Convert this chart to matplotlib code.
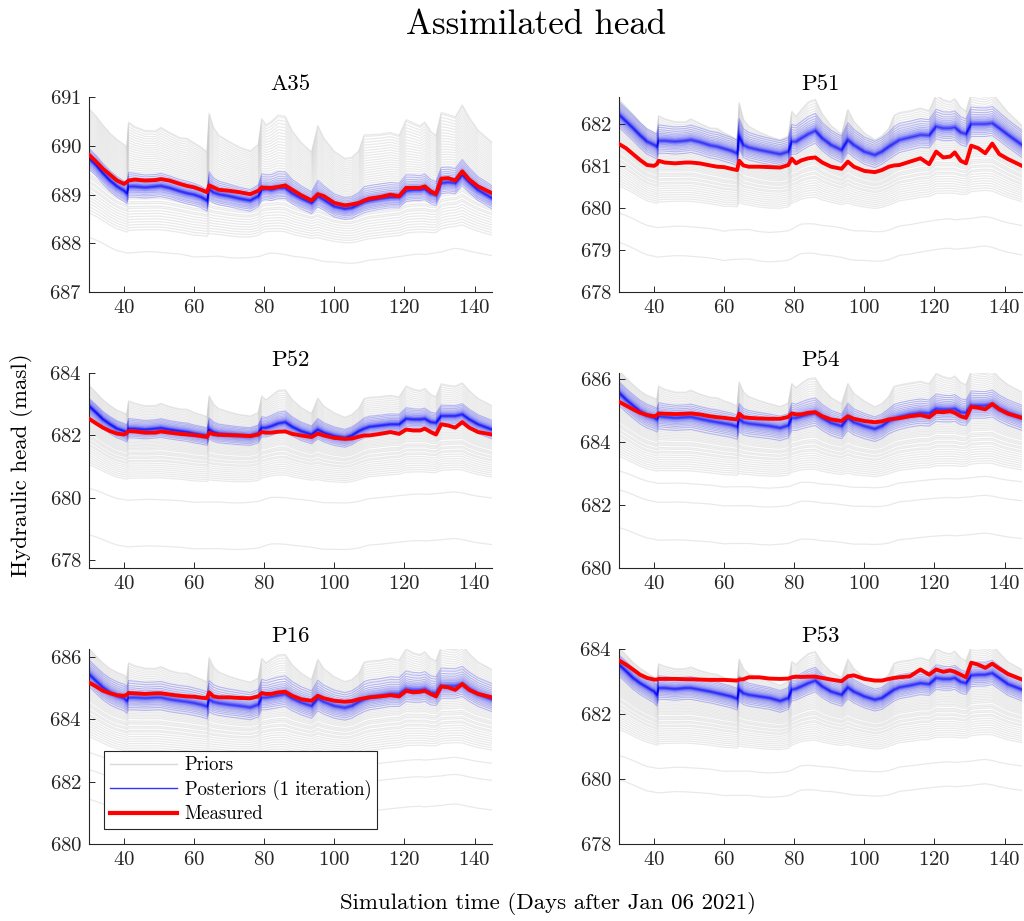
import numpy as np
import matplotlib
matplotlib.use("Agg")
import matplotlib.pyplot as plt
from matplotlib.lines import Line2D

plt.rcParams.update({
    "font.family": "serif",
    "font.serif": ["cmr10"],
    "mathtext.fontset": "cm",
    "axes.formatter.use_mathtext": True,
    "axes.unicode_minus": False,
})

# ---------------------------------------------------------------- data
days = [30, 32, 34, 36, 38, 40, 40.8, 41.3, 43, 46,
        49, 50.5, 53, 56, 58, 60, 62, 63.7, 64.3, 65.5,
        67, 70, 73, 76, 78.3, 79.3, 80.5, 82, 84, 86,
        88, 90.5, 93.5, 95.3, 97, 100, 103, 105, 107, 108.5,
        110, 113, 116, 118.5, 120.5, 122.5, 124.5, 125.8, 127.5, 129,
        130.5, 132.5, 134.5, 136.5, 138.5, 141, 145]

# recharge-event response of the wettest prior realisations (relative units)
pulse = [0, 0, 0, 0, 0, 0, 0, 0.6, 0.45, 0.35,
         0.3, 0.4, 0.3, 0.25, 0.3, 0.2, 0.15, 0.1, 1.0, 0.65,
         0.45, 0.3, 0.2, 0.15, 0.2, 0.85, 0.6, 0.75, 0.9, 0.85,
         0.55, 0.35, 0.2, 0.85, 0.55, 0.35, 0.2, 0.2, 0.3, 0.75,
         0.7, 0.65, 0.65, 0.55, 0.85, 0.7, 0.6, 0.7, 0.55, 0.45,
         0.8, 0.7, 0.65, 0.75, 0.6, 0.45, 0.35]

wells = ["A35", "P51", "P52", "P54", "P16", "P53"]

meas_A35 = [689.82, 689.68, 689.53, 689.41, 689.29, 689.22, 689.26, 689.29, 689.31, 689.29,
            689.30, 689.32, 689.29, 689.22, 689.18, 689.15, 689.10, 689.05, 689.19, 689.15,
            689.10, 689.08, 689.05, 689.01, 689.08, 689.15, 689.14, 689.14, 689.16, 689.19,
            689.10, 688.99, 688.88, 689.01, 688.97, 688.83, 688.78, 688.80, 688.83, 688.88,
            688.92, 688.95, 689.00, 688.97, 689.14, 689.14, 689.14, 689.17, 689.07, 689.01,
            689.33, 689.34, 689.29, 689.48, 689.31, 689.17, 689.03]
post_A35 = [689.75, 689.61, 689.44, 689.29, 689.17, 689.08, 689.03, 689.17, 689.17, 689.15,
            689.17, 689.18, 689.14, 689.07, 689.03, 689.00, 688.95, 688.88, 689.12, 689.05,
            689.01, 688.97, 688.92, 688.88, 688.97, 689.10, 689.12, 689.10, 689.14, 689.14,
            689.03, 688.93, 688.83, 688.97, 688.90, 688.76, 688.71, 688.73, 688.80, 688.85,
            688.88, 688.92, 688.95, 688.95, 689.08, 689.10, 689.10, 689.12, 689.03, 689.00,
            689.24, 689.26, 689.24, 689.41, 689.26, 689.10, 688.93]

meas_P51 = [681.52, 681.42, 681.28, 681.14, 681.02, 681.00, 681.04, 681.12, 681.08, 681.06,
            681.08, 681.08, 681.06, 681.01, 680.98, 680.97, 680.93, 680.90, 681.12, 681.01,
            680.98, 680.98, 680.97, 680.96, 681.02, 681.17, 681.06, 681.13, 681.18, 681.20,
            681.08, 680.98, 680.93, 681.10, 680.98, 680.88, 680.85, 680.90, 680.98, 681.01,
            681.02, 681.10, 681.18, 681.04, 681.34, 681.20, 681.22, 681.32, 681.12, 681.06,
            681.48, 681.42, 681.30, 681.53, 681.28, 681.16, 681.00]
post_P51 = [682.22, 682.06, 681.90, 681.73, 681.58, 681.50, 681.46, 681.60, 681.60, 681.58,
            681.60, 681.62, 681.57, 681.49, 681.46, 681.41, 681.36, 681.30, 681.70, 681.50,
            681.44, 681.38, 681.33, 681.28, 681.34, 681.58, 681.58, 681.66, 681.76, 681.84,
            681.66, 681.50, 681.38, 681.62, 681.50, 681.34, 681.26, 681.34, 681.46, 681.54,
            681.62, 681.68, 681.74, 681.73, 681.94, 681.90, 681.90, 681.92, 681.80, 681.76,
            682.00, 682.00, 682.00, 682.02, 681.90, 681.74, 681.50]

meas_P52 = [682.54, 682.39, 682.25, 682.14, 682.06, 682.03, 682.09, 682.14, 682.13, 682.09,
            682.09, 682.13, 682.09, 682.05, 682.03, 682.01, 681.98, 681.95, 682.09, 682.04,
            682.02, 682.01, 682.00, 681.98, 682.03, 682.11, 682.09, 682.09, 682.12, 682.13,
            682.05, 682.00, 681.95, 682.06, 682.00, 681.92, 681.89, 681.90, 681.96, 682.00,
            682.00, 682.05, 682.11, 682.05, 682.19, 682.16, 682.16, 682.22, 682.11, 682.03,
            682.36, 682.32, 682.25, 682.43, 682.25, 682.11, 682.03]
post_P52 = [682.95, 682.74, 682.52, 682.36, 682.22, 682.14, 682.09, 682.22, 682.22, 682.19,
            682.22, 682.24, 682.19, 682.14, 682.11, 682.06, 682.02, 681.98, 682.19, 682.11,
            682.06, 682.03, 682.00, 681.98, 682.06, 682.25, 682.25, 682.30, 682.39, 682.43,
            682.28, 682.14, 682.03, 682.19, 682.09, 681.98, 681.92, 682.00, 682.14, 682.22,
            682.28, 682.32, 682.36, 682.36, 682.54, 682.52, 682.52, 682.54, 682.43, 682.41,
            682.63, 682.63, 682.63, 682.68, 682.52, 682.36, 682.19]

meas_P54 = [685.27, 685.15, 685.03, 684.92, 684.85, 684.81, 684.84, 684.90, 684.89, 684.88,
            684.89, 684.90, 684.87, 684.81, 684.78, 684.76, 684.73, 684.71, 684.89, 684.78,
            684.76, 684.74, 684.73, 684.73, 684.79, 684.90, 684.87, 684.87, 684.92, 684.94,
            684.81, 684.71, 684.66, 684.81, 684.73, 684.66, 684.62, 684.65, 684.71, 684.73,
            684.75, 684.81, 684.85, 684.78, 684.95, 684.94, 684.97, 684.92, 684.81, 684.76,
            685.11, 685.08, 685.03, 685.20, 685.03, 684.89, 684.76]
post_P54 = [685.56, 685.34, 685.15, 684.97, 684.84, 684.76, 684.71, 684.81, 684.79, 684.76,
            684.78, 684.79, 684.73, 684.66, 684.62, 684.58, 684.54, 684.48, 684.73, 684.62,
            684.58, 684.54, 684.50, 684.44, 684.52, 684.76, 684.76, 684.81, 684.87, 684.92,
            684.76, 684.60, 684.50, 684.76, 684.62, 684.50, 684.41, 684.50, 684.66, 684.73,
            684.79, 684.87, 684.92, 684.90, 685.05, 685.03, 685.03, 685.05, 684.94, 684.92,
            685.15, 685.15, 685.15, 685.19, 685.05, 684.92, 684.76]

meas_P16 = [685.19, 685.06, 684.92, 684.84, 684.78, 684.76, 684.79, 684.85, 684.84, 684.82,
            684.84, 684.84, 684.80, 684.76, 684.74, 684.73, 684.70, 684.68, 684.87, 684.74,
            684.71, 684.71, 684.69, 684.68, 684.74, 684.85, 684.82, 684.82, 684.87, 684.89,
            684.76, 684.65, 684.60, 684.76, 684.68, 684.60, 684.57, 684.59, 684.65, 684.68,
            684.71, 684.74, 684.78, 684.74, 684.92, 684.87, 684.89, 684.92, 684.82, 684.74,
            685.06, 685.03, 684.95, 685.14, 684.95, 684.82, 684.71]
post_P16 = [685.46, 685.24, 685.03, 684.87, 684.76, 684.68, 684.60, 684.71, 684.71, 684.69,
            684.71, 684.71, 684.65, 684.60, 684.57, 684.53, 684.48, 684.42, 684.65, 684.57,
            684.53, 684.48, 684.44, 684.39, 684.48, 684.71, 684.71, 684.74, 684.78, 684.82,
            684.68, 684.55, 684.44, 684.68, 684.57, 684.44, 684.38, 684.44, 684.57, 684.65,
            684.71, 684.76, 684.82, 684.82, 684.98, 684.95, 684.95, 684.98, 684.87, 684.85,
            685.08, 685.08, 685.08, 685.14, 684.98, 684.82, 684.65]

meas_P53 = [683.66, 683.53, 683.38, 683.22, 683.12, 683.07, 683.07, 683.09, 683.09, 683.09,
            683.08, 683.08, 683.07, 683.06, 683.06, 683.06, 683.05, 683.04, 683.07, 683.08,
            683.14, 683.14, 683.10, 683.09, 683.10, 683.14, 683.16, 683.15, 683.16, 683.16,
            683.12, 683.07, 683.02, 683.17, 683.20, 683.09, 683.04, 683.04, 683.09, 683.12,
            683.14, 683.17, 683.38, 683.22, 683.38, 683.31, 683.35, 683.31, 683.22, 683.14,
            683.59, 683.53, 683.43, 683.56, 683.41, 683.24, 683.07]
post_P53 = [683.53, 683.33, 683.12, 682.96, 682.83, 682.70, 682.60, 682.81, 682.81, 682.78,
            682.81, 682.81, 682.76, 682.70, 682.65, 682.60, 682.55, 682.48, 682.76, 682.65,
            682.60, 682.55, 682.50, 682.41, 682.50, 682.76, 682.79, 682.86, 682.96, 683.04,
            682.86, 682.70, 682.60, 682.83, 682.70, 682.55, 682.45, 682.50, 682.65, 682.76,
            682.83, 682.89, 682.96, 682.93, 683.12, 683.09, 683.09, 683.12, 683.00, 682.96,
            683.20, 683.22, 683.22, 683.27, 683.12, 682.93, 682.76]

measured = [meas_A35, meas_P51, meas_P52, meas_P54, meas_P16, meas_P53]
posterior_mean = [post_A35, post_P51, post_P52, post_P54, post_P16, post_P53]

# prior ensemble: offsets (m) of the main cloud's top / bottom from the posterior mean
prior_top = [0.95, 0.30, 0.60, 0.63, 0.75, 0.45]
prior_bottom = [-0.85, -1.45, -1.60, -1.70, -1.70, -1.70]
prior_outliers = [[-1.30], [-2.05, -2.75], [-2.30, -3.80],
                  [-2.10, -2.70, -3.90], [-2.15, -2.70, -3.65], [-2.45, -3.20]]
pulse_amp = [0.60, 0.50, 0.50, 0.55, 0.60, 0.50]

# relative position of each prior realisation inside the cloud (0 = bottom, 1 = top)
prior_rank = [0.0, 0.03, 0.06, 0.09, 0.12, 0.15, 0.18, 0.21, 0.24, 0.26,
              0.29, 0.31, 0.34, 0.36, 0.38, 0.41, 0.43, 0.45, 0.47, 0.49,
              0.51, 0.53, 0.55, 0.57, 0.59, 0.61, 0.63, 0.65, 0.67, 0.69,
              0.71, 0.73, 0.75, 0.77, 0.79, 0.81, 0.83, 0.85, 0.87, 0.89,
              0.91, 0.93, 0.95, 0.97, 0.99, 1.0]

# posterior ensemble: relative offsets and half-widths (below, above) in m
post_rank = [-1.0, -0.82, -0.68, -0.56, -0.46, -0.37, -0.30, -0.24, -0.19, -0.15,
             -0.12, -0.09, -0.07, -0.05, -0.03, -0.01, 0.0, 0.01, 0.03, 0.05,
             0.07, 0.09, 0.12, 0.15, 0.19, 0.24, 0.30, 0.37, 0.46, 0.57,
             0.70, 0.85, 1.0]
post_width = [(0.22, 0.20), (0.30, 0.30), (0.30, 0.25), (0.40, 0.35), (0.40, 0.45), (0.35, 0.30)]

ylims = [(687, 691), (678, 682.63), (677.73, 684), (680, 686.17), (680, 686.25), (678, 684)]
yticks = [[687, 688, 689, 690, 691], [678, 679, 680, 681, 682], [678, 680, 682, 684],
          [680, 682, 684, 686], [680, 682, 684, 686], [678, 680, 682, 684]]
xticks = [40, 60, 80, 100, 120, 140]

for arr in measured + posterior_mean + [pulse]:
    assert len(arr) == len(days)

# ---------------------------------------------------------------- styles
PRIOR_C = (0.80, 0.80, 0.80)
POST_C = (0.0, 0.0, 1.0)
MEAS_C = (1.0, 0.0, 0.0)
AX_C = "#262626"

fig = plt.figure(figsize=(10.24, 9.21), dpi=100)

lefts = [0.0869, 0.6045]
bottoms = [0.6830, 0.3833, 0.0836]
W, H = 0.3936, 0.2113

t = np.asarray(days, dtype=float)
pl = np.asarray(pulse, dtype=float)


def smoothed(y):
    k = np.ones(5) / 5.0
    return np.convolve(np.pad(y, 2, mode="edge"), k, mode="valid")


for i, well in enumerate(wells):
    r, c = divmod(i, 2)
    ax = fig.add_axes([lefts[c], bottoms[r], W, H])
    post = np.asarray(posterior_mean[i], dtype=float)
    sm = smoothed(post)
    mean = post.mean()

    # prior realisations
    for rk in prior_rank:
        lev = prior_bottom[i] + rk * (prior_top[i] - prior_bottom[i])
        w = 0.6 * (1 - rk)
        shape = (1 - w) * post + w * sm
        g = 0.65 + 0.45 * rk
        y = mean + lev + g * (shape - mean) + rk ** 3 * pulse_amp[i] * pl
        ax.plot(t, y, color=PRIOR_C, alpha=0.42, lw=0.9, zorder=1)
    for off in prior_outliers[i]:
        y = mean + off + 0.6 * (sm - mean)
        ax.plot(t, y, color=PRIOR_C, alpha=0.42, lw=0.9, zorder=1)

    # posterior realisations
    lo, hi = post_width[i]
    for u in post_rank:
        off = u * (hi if u > 0 else lo)
        y = post + off + max(u, 0) * 0.25 * pulse_amp[i] * pl
        ax.plot(t, y, color=POST_C, alpha=0.24, lw=0.8, zorder=2)

    # observations
    ax.plot(t, measured[i], color=MEAS_C, lw=2.8, zorder=3, solid_joinstyle="round")

    ax.set_xlim(30, 145)
    ax.set_ylim(*ylims[i])
    ax.set_xticks(xticks)
    ax.set_yticks(yticks[i])
    ax.set_title(well, fontsize=16.5, pad=5, color="black")
    for s in ("top", "right"):
        ax.spines[s].set_visible(False)
    for s in ("left", "bottom"):
        ax.spines[s].set_color(AX_C)
        ax.spines[s].set_linewidth(0.8)
    ax.tick_params(direction="in", length=4, width=0.7, colors=AX_C,
                   labelsize=15, labelcolor=AX_C, pad=5)

    if well == "P16":
        handles = [Line2D([], [], color=(0.85, 0.85, 0.85), lw=1.0),
                   Line2D([], [], color=(0.2, 0.2, 1.0), lw=1.0),
                   Line2D([], [], color=MEAS_C, lw=3.0)]
        leg = ax.legend(handles, ["Priors", "Posteriors (1 iteration)", "Measured"],
                        loc="lower left", bbox_to_anchor=(0.037, 0.077),
                        borderaxespad=0, fontsize=13.5, handlelength=3.6,
                        handletextpad=0.4, labelspacing=0.3, borderpad=0.3,
                        fancybox=False, framealpha=1.0, edgecolor=AX_C)
        leg.get_frame().set_linewidth(0.8)
        leg.set_zorder(5)

fig.text(0.523, 0.973, "Assimilated head", ha="center", va="center", fontsize=25)
fig.text(0.535, 0.019, "Simulation time (Days after Jan 06 2021)", ha="center",
         va="center", fontsize=16.5)
fig.text(0.021, 0.495, "Hydraulic head (masl)", ha="center", va="center",
         rotation=90, fontsize=16.5)

fig.savefig("out.png", dpi=100)
